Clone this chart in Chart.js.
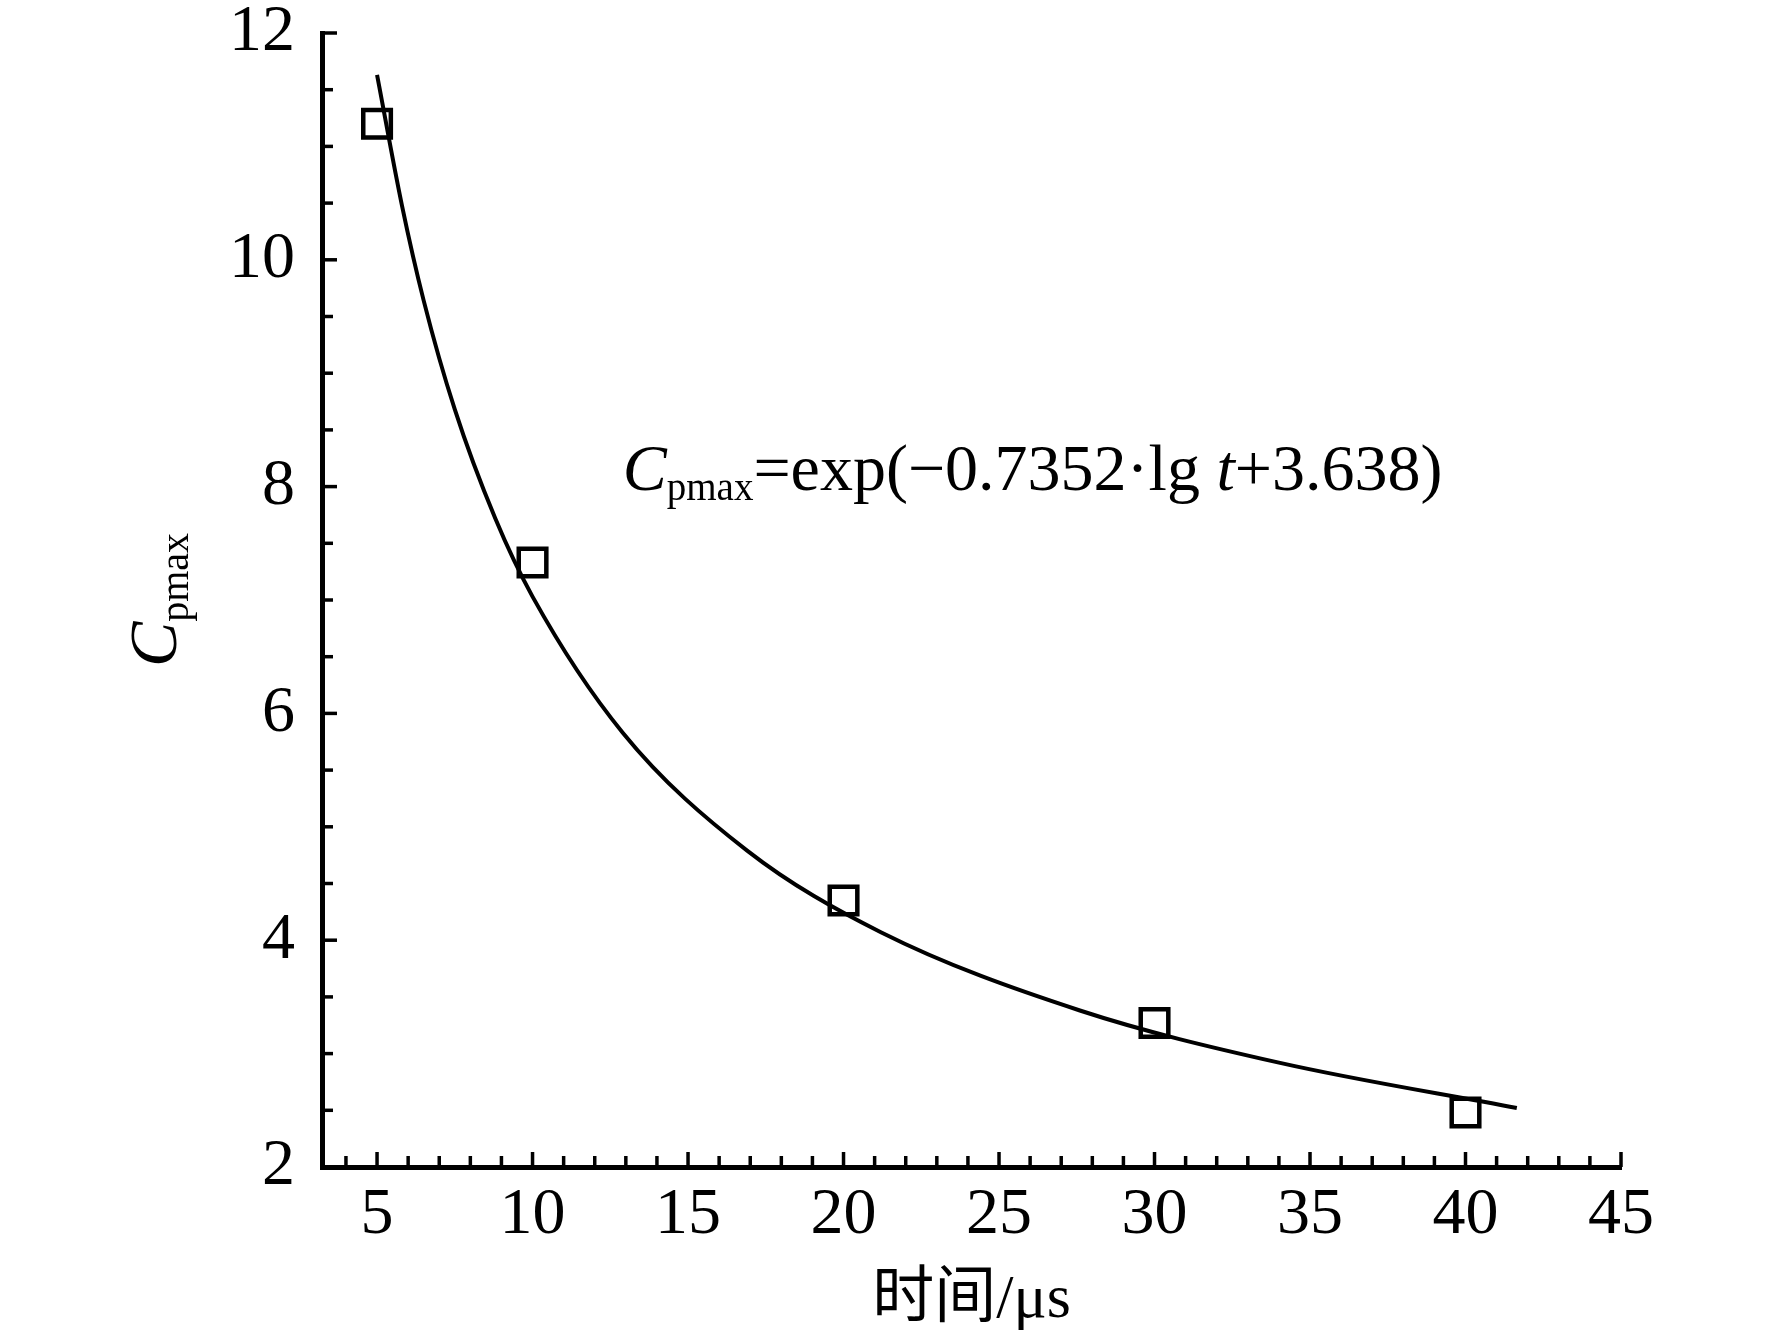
<!DOCTYPE html>
<html>
<head>
<meta charset="utf-8">
<script src="https://cdn.jsdelivr.net/npm/chart.js@4/dist/chart.umd.min.js"></script>
<style>
    html, body { margin: 0; padding: 0; background: #fff; }
    canvas { display: block; }
</style>
</head>
<body>
<canvas id="cpmaxCanvas" width="1772" height="1338"></canvas>
<script>
// measured points
const pointTimes = [5, 10, 20, 30, 40];
const pointValues = [11.2, 7.33, 4.35, 3.27, 2.48];

// fitted curve
const curveTimes = [5.0, 5.8, 6.5, 7.5, 8.8, 10.0, 12.9, 16.9, 21.2, 27.6, 34.0, 41.65];
const curveValues = [11.63, 10.48, 9.64, 8.68, 7.72, 7.03, 5.83, 4.79, 4.07, 3.38, 2.92, 2.52];

const xTicks = [5, 10, 15, 20, 25, 30, 35, 40, 45];
const yTicks = [2, 4, 6, 8, 10, 12];

const xTitle = '时间/μs';
const yTitle = ['C', 'pmax'];
const equation = ['C', 'pmax', '=exp(\u22120.7352\u00b7lg ', 't', '+3.638)'];
const equationAt = { x: 12.9, y: 7.97 };

(() => {
    const canvas = document.getElementById('cpmaxCanvas');
    const serif = "'Liberation Serif', 'Times New Roman', serif";

    // ticks point inward, minor ticks between labels
    const inwardTicks = {
        id: 'inwardTicks',
        afterDraw(chart) {
            const { ctx, chartArea } = chart;
            const x = chart.scales.x;
            const y = chart.scales.y;
            ctx.save();
            ctx.strokeStyle = '#000';
            ctx.lineWidth = 3.5;
            for (let v = Math.ceil(x.min); v <= x.max; v += 1) {
                const px = x.getPixelForValue(v);
                const len = v % 5 === 0 ? 15 : 11;
                ctx.beginPath();
                ctx.moveTo(px, chartArea.bottom);
                ctx.lineTo(px, chartArea.bottom - len);
                ctx.stroke();
            }
            for (let v = y.min; v <= y.max + 1e-9; v += 0.5) {
                const py = y.getPixelForValue(v);
                const len = v % 2 === 0 ? 15 : 11;
                ctx.beginPath();
                ctx.moveTo(chartArea.left, py);
                ctx.lineTo(chartArea.left + len, py);
                ctx.stroke();
            }
            ctx.restore();
        }
    };

    const texts = {
        id: 'texts',
        afterDraw(chart) {
            const { ctx, chartArea } = chart;
            const x = chart.scales.x;
            const y = chart.scales.y;
            ctx.save();
            ctx.fillStyle = '#000';
            ctx.textBaseline = 'alphabetic';

            // equation
            let cx = x.getPixelForValue(equationAt.x);
            const by = y.getPixelForValue(equationAt.y);
            const parts = [
                { t: equation[0], f: 'italic 66px ' + serif, dy: 0 },
                { t: equation[1], f: '39px ' + serif, dy: 10 },
                { t: equation[2], f: '66px ' + serif, dy: 0 },
                { t: equation[3], f: 'italic 66px ' + serif, dy: 0 },
                { t: equation[4], f: '66px ' + serif, dy: 0 }
            ];
            parts.forEach(p => {
                ctx.font = p.f;
                ctx.fillText(p.t, cx, by + p.dy);
                cx += ctx.measureText(p.t).width;
            });

            // y title, rotated
            ctx.save();
            const midY = (chartArea.top + chartArea.bottom) / 2;
            ctx.translate(176, midY);
            ctx.rotate(-Math.PI / 2);
            ctx.font = 'italic 68px ' + serif;
            const w1 = ctx.measureText(yTitle[0]).width;
            ctx.font = '40px ' + serif;
            const w2 = ctx.measureText(yTitle[1]).width;
            const tx = -(w1 + w2) / 2;
            ctx.font = 'italic 68px ' + serif;
            ctx.fillText(yTitle[0], tx, 0);
            ctx.font = '40px ' + serif;
            ctx.fillText(yTitle[1], tx + w1, 12);
            ctx.restore();

            // x title
            ctx.font = "62px 'Liberation Serif', 'Noto Sans CJK SC', serif";
            ctx.textAlign = 'center';
            ctx.fillText(xTitle, (chartArea.left + chartArea.right) / 2, 1317);
            ctx.restore();
        }
    };

    const data = {
        datasets: [
            {
                label: 'fit',
                data: curveTimes.map((t, i) => ({ x: t, y: curveValues[i] })),
                showLine: true,
                borderColor: '#000',
                borderWidth: 4,
                pointRadius: 0,
                cubicInterpolationMode: 'monotone'
            },
            {
                label: 'Cpmax',
                data: pointTimes.map((t, i) => ({ x: t, y: pointValues[i] })),
                pointStyle: 'rect',
                pointRadius: 19.5,
                pointBorderWidth: 4.5,
                pointBorderColor: '#000',
                pointBackgroundColor: 'rgba(0,0,0,0)'
            }
        ]
    };

    const tickFont = { family: serif, size: 66, lineHeight: 1 };

    const options = {
        responsive: false,
        devicePixelRatio: 1,
        animation: false,
        layout: { padding: { top: 33, right: 151, left: 0, bottom: 0 } },
        plugins: {
            legend: { display: false },
            tooltip: { enabled: false }
        },
        scales: {
            x: {
                type: 'linear',
                min: 3.23,
                max: 45,
                afterBuildTicks: s => { s.ticks = xTicks.map(v => ({ value: v })); },
                afterFit: s => { s.height = 171; s.paddingLeft = 0; s.paddingRight = 0; },
                grid: { display: false, drawTicks: false },
                border: { display: true, color: '#000', width: 5 },
                ticks: { color: '#000', font: tickFont, padding: 16, maxRotation: 0, autoSkip: false }
            },
            y: {
                type: 'linear',
                min: 2,
                max: 12,
                afterBuildTicks: s => { s.ticks = yTicks.map(v => ({ value: v })); },
                afterFit: s => { s.width = 322; s.paddingTop = 0; s.paddingBottom = 0; },
                grid: { display: false, drawTicks: false },
                border: { display: true, color: '#000', width: 5 },
                ticks: { color: '#000', font: tickFont, padding: 27, autoSkip: false }
            }
        }
    };

    new Chart(canvas, { type: 'scatter', data, options, plugins: [inwardTicks, texts] });
})();
</script>
</body>
</html>
